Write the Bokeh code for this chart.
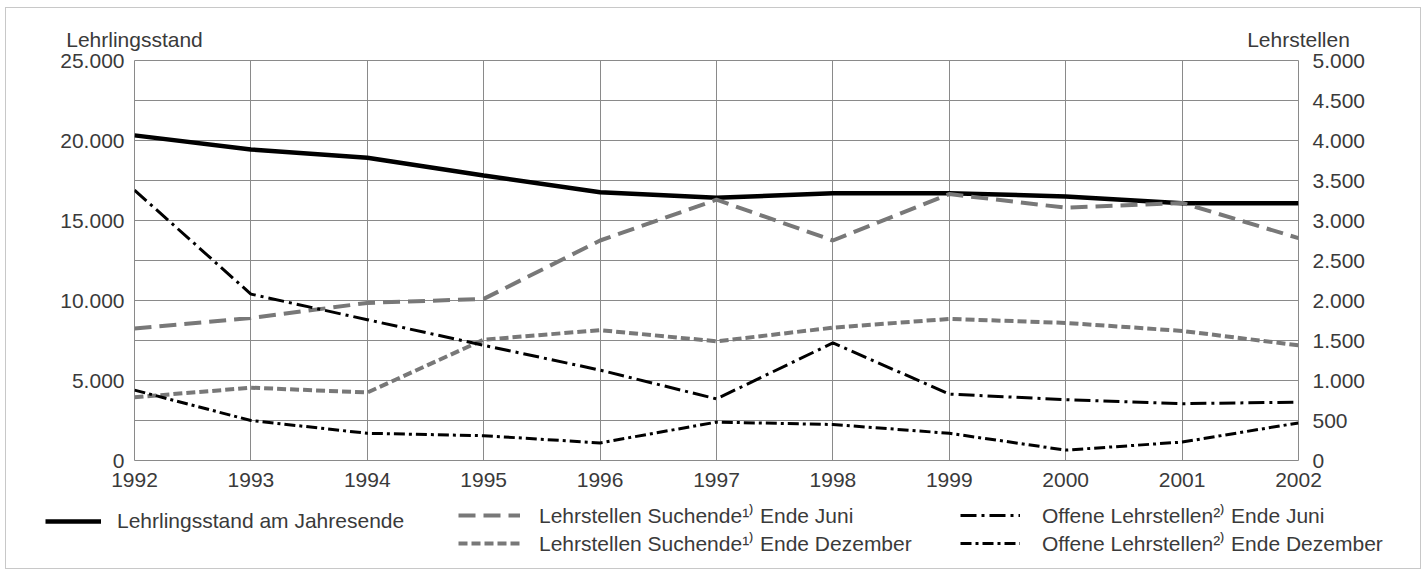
from bokeh.plotting import figure
from bokeh.layouts import column
from bokeh.models import (Range1d, LinearAxis, FixedTicker, Legend, LegendItem)
from bokeh.embed import file_html
from bokeh.resources import INLINE

# ---- data ----
years = [1992, 1993, 1994, 1995, 1996, 1997, 1998, 1999, 2000, 2001, 2002]
lehrlingsstand = [20320, 19440, 18920, 17810, 16770, 16420, 16710, 16710, 16500, 16080, 16080]
suchende_juni = [1650, 1780, 1970, 2020, 2750, 3260, 2750, 3330, 3160, 3220, 2780]
suchende_dez = [790, 910, 850, 1510, 1630, 1490, 1660, 1770, 1720, 1620, 1440]
offene_juni = [3380, 2080, 1760, 1440, 1130, 770, 1470, 830, 760, 710, 730]
offene_dez = [880, 500, 340, 310, 220, 480, 450, 340, 130, 230, 470]

left_ticks = [0, 5000, 10000, 15000, 20000, 25000]
right_ticks = [0, 500, 1000, 1500, 2000, 2500, 3000, 3500, 4000, 4500, 5000]
grid_ticks = [0, 2500, 5000, 7500, 10000, 12500, 15000, 17500, 20000, 22500, 25000]

left_title = "Lehrlingsstand"
right_title = "Lehrstellen"
labels = {
    "lehr": "Lehrlingsstand am Jahresende",
    "sj": "Lehrstellen Suchende\u00b9\u207e Ende Juni",
    "sd": "Lehrstellen Suchende\u00b9\u207e Ende Dezember",
    "oj": "Offene Lehrstellen\u00b2\u207e Ende Juni",
    "od": "Offene Lehrstellen\u00b2\u207e Ende Dezember",
}

def fmt(v):
    return f"{v:,}".replace(",", ".")

FONT = "Liberation Sans"
TXT = "#3a3a3a"
GRID = "#8a8a8a"
GRAY = "#787878"
FS = "21px"

series = {
    "lehr": (lehrlingsstand, "default"),
    "sj": (suchende_juni, "right"),
    "sd": (suchende_dez, "right"),
    "oj": (offene_juni, "right"),
    "od": (offene_dez, "right"),
}
styles = {
    "lehr": dict(line_color="black", line_width=4.5),
    "sj": dict(line_color=GRAY, line_width=4, line_dash="17 8"),
    "sd": dict(line_color=GRAY, line_width=4, line_dash="9 4"),
    "oj": dict(line_color="black", line_width=3, line_dash="16 5 3 5"),
    "od": dict(line_color="black", line_width=3, line_dash="11 4 3 4"),
}

# ---------------- main chart ----------------
p = figure(width=1414, height=496, output_backend="svg", toolbar_location=None,
           x_range=Range1d(1992, 2002), y_range=Range1d(0, 25000),
           min_border_left=128, min_border_right=122, min_border_top=52, min_border_bottom=44)
p.extra_y_ranges = {"right": Range1d(0, 5000)}
p.background_fill_color = "white"
p.border_fill_color = "white"
p.outline_line_color = GRID
p.outline_line_width = 1

xb = p.xaxis[0]
yl = p.yaxis[0]
xb.ticker = FixedTicker(ticks=years)
xb.major_label_overrides = {y: str(y) for y in years}
xb.major_label_standoff = 12
yl.ticker = FixedTicker(ticks=left_ticks)
yl.major_label_overrides = {t: fmt(t) for t in left_ticks}
yl.major_label_standoff = 10

rax = LinearAxis(y_range_name="right", ticker=FixedTicker(ticks=right_ticks),
                 major_label_overrides={t: fmt(t) for t in right_ticks})
rax.major_label_standoff = 14
p.add_layout(rax, "right")

# axis titles: labels of an axis above the frame, at its two ends
tax = LinearAxis(ticker=FixedTicker(ticks=[years[0], years[-1]]),
                 major_label_overrides={years[0]: left_title, years[-1]: right_title})
tax.major_label_standoff = 10
p.add_layout(tax, "above")

for ax in [xb, yl, rax, tax]:
    ax.axis_line_color = None
    ax.major_tick_line_color = None
    ax.minor_tick_line_color = None
    ax.major_tick_out = 0
    ax.major_tick_in = 0
    ax.minor_tick_out = 0
    ax.minor_tick_in = 0
    ax.major_label_text_font = FONT
    ax.major_label_text_font_size = FS
    ax.major_label_text_color = TXT

p.xgrid.ticker = FixedTicker(ticks=years)
p.ygrid.ticker = FixedTicker(ticks=grid_ticks)
p.xgrid.grid_line_color = GRID
p.ygrid.grid_line_color = GRID
p.xgrid.grid_line_width = 1
p.ygrid.grid_line_width = 1

for k, (vals, rng) in series.items():
    p.line(years, vals, y_range_name=rng, **styles[k])

# ---------------- legend strip ----------------
q = figure(width=1414, height=64, output_backend="svg", toolbar_location=None,
           x_range=Range1d(0, 1), y_range=Range1d(0, 1),
           x_axis_location=None, y_axis_location=None,
           min_border=0, min_border_left=0, min_border_right=0,
           min_border_top=0, min_border_bottom=0)
q.outline_line_color = None
q.grid.visible = False
q.background_fill_color = "white"
q.border_fill_color = "white"

# legend-only renderers: same series, outside this strip's ranges (not visible here)
rr = {k: q.line(years, vals, **styles[k]) for k, (vals, rng) in series.items()}

def add_legend(keys, loc, gw, standoff):
    lg = Legend(items=[LegendItem(label=labels[k], renderers=[rr[k]]) for k in keys],
                location=loc, orientation="vertical", spacing=0,
                glyph_width=gw, glyph_height=24, label_height=24, label_standoff=standoff,
                background_fill_alpha=0, border_line_color=None, padding=0, margin=0,
                label_text_font=FONT, label_text_font_size=FS, label_text_color=TXT,
                label_text_line_height=1.0)
    try:
        lg.spacing = -3
    except Exception:
        pass
    q.add_layout(lg, "center")

add_legend(["lehr"], (39, 35), 56, 16)
add_legend(["sj", "sd"], (452, 11), 62, 19)
add_legend(["oj", "od"], (954, 11), 60, 22)

if "frame_align" in p.properties():
    p.frame_align = False
    q.frame_align = False

lay = column(p, q, spacing=0)
lay.styles = {"border": "1px solid #c8c8c8", "margin": "7px 0 0 5px"}

open("out.html", "w").write(file_html(lay, INLINE))
